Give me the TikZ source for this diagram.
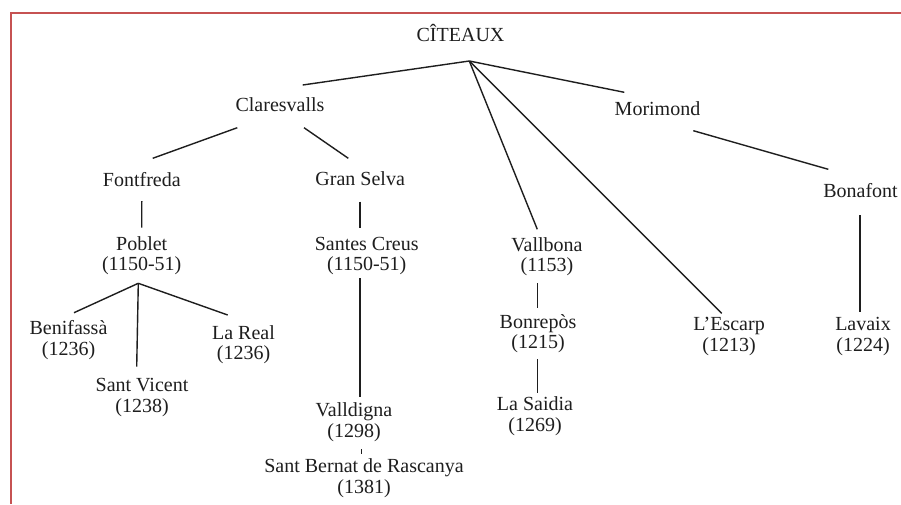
\documentclass[tikz,border=0pt]{standalone}
\usepackage{fontspec}
\setmainfont{Liberation Serif}
\definecolor{framered}{RGB}{198,82,82}
\definecolor{ink}{RGB}{30,30,30}
\begin{document}
\begin{tikzpicture}[x=1pt,y=-1pt,
  lbl/.style={inner sep=0pt,outer sep=0pt,anchor=base,align=center,text=ink,
    font=\fontsize{20}{20.5}\selectfont},
  link/.style={draw=ink,line width=1.4pt}]
\useasboundingbox (0,0) rectangle (901,504);
\fill[white] (0,0) rectangle (901,504);
% frame
\draw[framered,line width=2.3pt] (901,12.7) -- (10.7,12.7) -- (10.7,504);
% nodes (base = baseline of the last line)
\node[lbl] (cit)   at (460.5,41.5) {CÎTEAUX};
\node[lbl] (clar)  at (280,111.7) {Claresvalls};
\node[lbl] (mori)  at (657.5,115) {Morimond};
\node[lbl] (font)  at (141.8,186) {Fontfreda};
\node[lbl] (gran)  at (360.2,185) {Gran Selva};
\node[lbl] (bona)  at (860.5,197.3) {Bonafont};
\node[lbl] (pob)   at (141.7,270.5) {Poblet\\(1150-51)};
\node[lbl] (sc)    at (366.7,270.5) {Santes Creus\\(1150-51)};
\node[lbl] (vallb) at (547,271.5) {Vallbona\\(1153)};
\node[lbl] (beni)  at (68.5,355) {Benifassà\\(1236)};
\node[lbl] (real)  at (243.5,359.8) {La Real\\(1236)};
\node[lbl] (vic)   at (142,412.2) {Sant Vicent\\(1238)};
\node[lbl] (bonr)  at (538,348.5) {Bonrepòs\\(1215)};
\node[lbl] (esc)   at (729,351.2) {L’Escarp\\(1213)};
\node[lbl] (lav)   at (863,351.2) {Lavaix\\(1224)};
\node[lbl] (sai)   at (535,431.2) {La Saidia\\(1269)};
\node[lbl] (vd)    at (354,437.2) {Valldigna\\(1298)};
\node[lbl] (sb)    at (364,493.2) {Sant Bernat de Rascanya\\(1381)};
% junction points
\coordinate (apex) at ([shift={(8.8,19.5)}]cit.base);
\coordinate (pj)   at ([shift={(-3.4,12.8)}]pob.base);
% connectors
\draw[link] (apex) -- ([shift={(22.7,-26.7)}]clar.base);
\draw[link] (apex) -- ([shift={(-33.2,-22.7)}]mori.base);
\draw[link] (apex) -- ([shift={(-9.7,-42.2)}]vallb.base);
\draw[link] (apex) -- ([shift={(-7.3,-37.9)}]esc.base);
\draw[link] ([shift={(-42.7,16)}]clar.base) -- ([shift={(10.9,-27.7)}]font.base);
\draw[link] ([shift={(24,16)}]clar.base) -- ([shift={(-11.9,-26.7)}]gran.base);
\draw[link] ([shift={(0,15)}]font.base) -- ([shift={(0,-42.8)}]pob.base);
\draw[link] ([shift={(-0.2,16.7)}]gran.base) -- ([shift={(-6.7,-42.2)}]sc.base);
\draw[link] (pj) -- ([shift={(5.5,-42.3)}]beni.base);
\draw[link] (pj) -- ([shift={(-15.8,-44.8)}]real.base);
\draw[link] (pj) -- ([shift={(-5.3,-45.5)}]vic.base);
\draw[link] ([shift={(-6.7,7.8)}]sc.base) -- ([shift={(6,-40.5)}]vd.base);
\draw[link] ([shift={(7.7,12.1)}]vd.base) -- ([shift={(-2.3,-39.2)}]sb.base);
\draw[link] ([shift={(-9.3,11.5)}]vallb.base) -- ([shift={(-0.3,-40.5)}]bonr.base);
\draw[link] ([shift={(-0.3,10.5)}]bonr.base) -- ([shift={(2.7,-38.7)}]sai.base);
\draw[link] ([shift={(35.8,15.7)}]mori.base) -- ([shift={(-32.2,-28)}]bona.base);
\draw[link] ([shift={(-0.5,17.7)}]bona.base) -- ([shift={(-3,-39.5)}]lav.base);
\end{tikzpicture}
\end{document}
